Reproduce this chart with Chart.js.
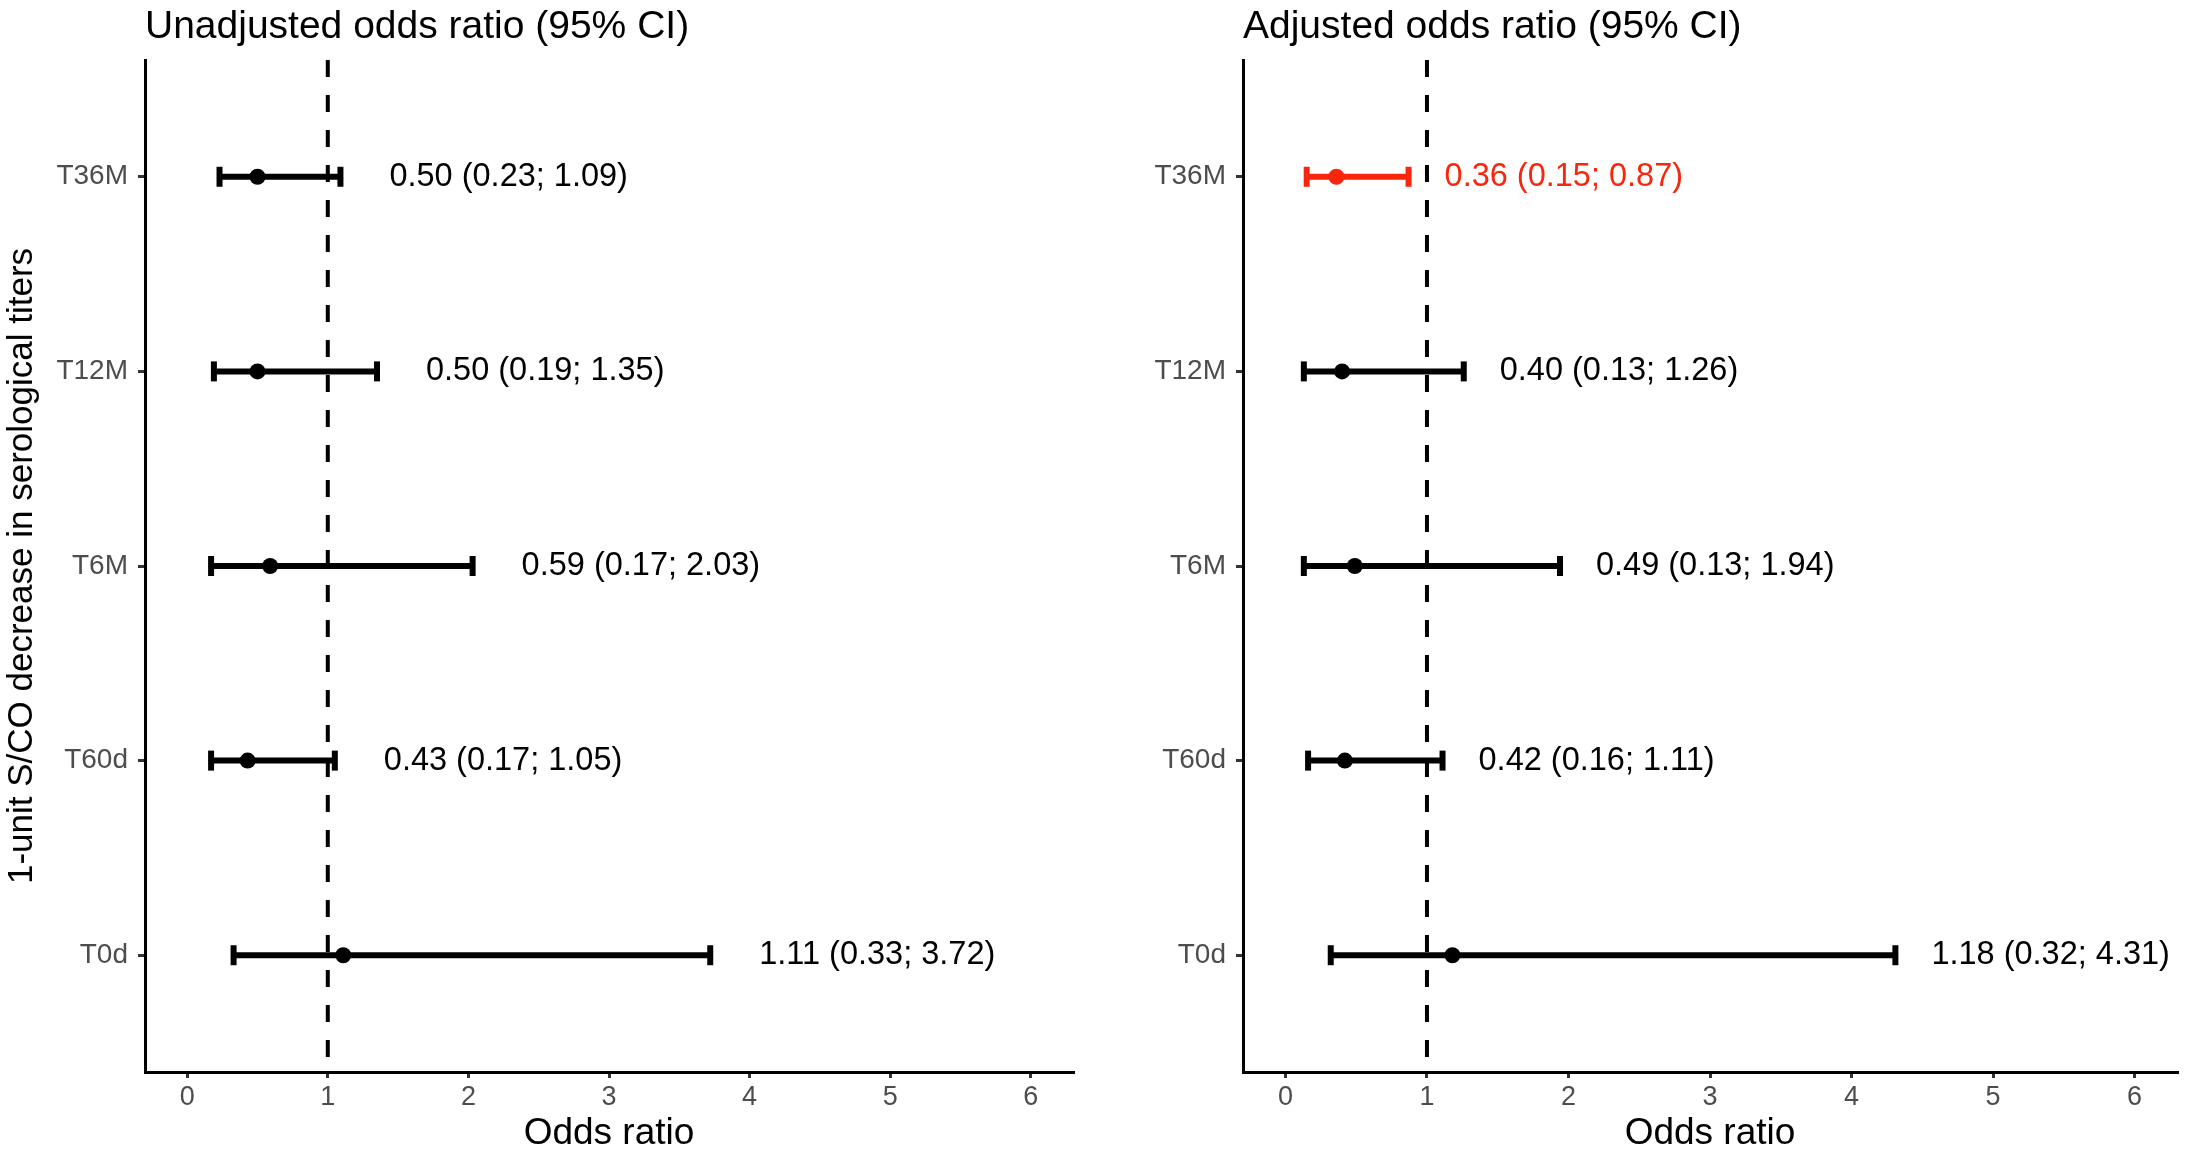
<!DOCTYPE html>
<html>
<head>
<meta charset="utf-8">
<script src="https://cdn.jsdelivr.net/npm/chart.js@4.4.1/dist/chart.umd.min.js"></script>
<style>
  html, body { margin: 0; padding: 0; background: #fff; }
  .panel { position: absolute; top: 0; height: 1156px; }
  #left { left: 0; width: 1100px; }
  #right { left: 1100px; width: 1093px; }
</style>
</head>
<body>
<div class="panel" id="left"><canvas id="unadjustedChart"></canvas></div>
<div class="panel" id="right"><canvas id="adjustedChart"></canvas></div>
<script>
// categories, top to bottom
var timepoints = ['T36M', 'T12M', 'T6M', 'T60d', 'T0d'];
var oddsTicks = [0, 1, 2, 3, 4, 5, 6];
var refLine = 1;

var unadjustedOR    = [0.50, 0.50, 0.59, 0.43, 1.11];
var unadjustedLower = [0.23, 0.19, 0.17, 0.17, 0.33];
var unadjustedUpper = [1.09, 1.35, 2.03, 1.05, 3.72];

var adjustedOR    = [0.36, 0.40, 0.49, 0.42, 1.18];
var adjustedLower = [0.15, 0.13, 0.13, 0.16, 0.32];
var adjustedUpper = [0.87, 1.26, 1.94, 1.11, 4.31];

var FONT = '"Liberation Sans", Arial, Helvetica, sans-serif';
var RED = '#f8260c';
var BLACK = '#000000';
var Y_MIN = -0.6, Y_MAX = 4.6;

Chart.defaults.font.family = FONT;

function rowColors(upper) {
    // intervals entirely below 1 are highlighted
    return upper.map(function (u) { return u < refLine ? RED : BLACK; });
}

function buildDatasets(or, lower, upper) {
    var colors = rowColors(upper);
    var sets = [];
    sets.push({
        label: 'OR',
        data: or.map(function (v, i) { return { x: v, y: i }; }),
        showLine: false,
        pointRadius: 8,
        pointHoverRadius: 8,
        pointBackgroundColor: colors,
        pointBorderWidth: 0
    });
    timepoints.forEach(function (t, i) {
        sets.push({
            label: t,
            data: [{ x: lower[i], y: i }, { x: upper[i], y: i }],
            showLine: true,
            borderColor: colors[i],
            borderWidth: 6,
            pointStyle: 'line',
            pointRotation: 90,
            pointRadius: 10,
            pointHoverRadius: 10,
            pointBorderWidth: 6,
            pointBorderColor: colors[i]
        });
    });
    sets.push({
        label: 'ref',
        data: [{ x: refLine, y: Y_MIN }, { x: refLine, y: Y_MAX }],
        showLine: true,
        borderColor: BLACK,
        borderWidth: 4,
        borderDash: [17, 18],
        pointRadius: 0,
        pointHoverRadius: 0
    });
    return sets;
}

function fmt(v) { return v.toFixed(2); }

function labelPlugin(or, lower, upper, gap) {
    var colors = rowColors(upper);
    return {
        id: 'ciLabels',
        afterDatasetsDraw: function (chart) {
            var ctx = chart.ctx, xs = chart.scales.x, ys = chart.scales.y;
            ctx.save();
            ctx.font = '32.5px ' + FONT;
            ctx.textAlign = 'left';
            ctx.textBaseline = 'middle';
            or.forEach(function (v, i) {
                ctx.fillStyle = colors[i];
                ctx.fillText(fmt(v) + ' (' + fmt(lower[i]) + '; ' + fmt(upper[i]) + ')',
                    xs.getPixelForValue(upper[i]) + gap, ys.getPixelForValue(i));
            });
            ctx.restore();
        }
    };
}

function titlePlugin(text) {
    return {
        id: 'panelTitle',
        afterDraw: function (chart) {
            var ctx = chart.ctx;
            ctx.save();
            ctx.font = '39px ' + FONT;
            ctx.fillStyle = BLACK;
            ctx.textAlign = 'left';
            ctx.textBaseline = 'alphabetic';
            ctx.fillText(text, chart.chartArea.left, 38);
            ctx.restore();
        }
    };
}

function createForestChart(elementId, title, or, lower, upper, opts) {
    var ctx = document.getElementById(elementId).getContext('2d');
    return new Chart(ctx, {
        type: 'scatter',
        data: { datasets: buildDatasets(or, lower, upper) },
        plugins: [labelPlugin(or, lower, upper, opts.gap), titlePlugin(title)],
        options: {
            responsive: true,
            maintainAspectRatio: false,
            animation: false,
            events: [],
            layout: { padding: { top: 60, right: opts.padRight, bottom: 0, left: 0 } },
            plugins: { legend: { display: false }, tooltip: { enabled: false } },
            scales: {
                x: {
                    type: 'linear',
                    min: -0.3,
                    max: 6.3,
                    afterBuildTicks: function (s) { s.ticks = oddsTicks.map(function (v) { return { value: v }; }); },
                    afterFit: function (s) { s.height = 84; },
                    border: { display: true, color: BLACK, width: 3 },
                    grid: { drawOnChartArea: false, drawTicks: true, tickLength: 6, color: '#333333', lineWidth: 3 },
                    ticks: { color: '#4d4d4d', font: { size: 27 }, padding: 3, maxRotation: 0, autoSkip: false },
                    title: { display: true, text: 'Odds ratio', color: BLACK, font: { size: 37 }, padding: { top: 0, bottom: 0 } }
                },
                y: {
                    type: 'linear',
                    reverse: true,
                    min: Y_MIN,
                    max: Y_MAX,
                    afterBuildTicks: function (s) { s.ticks = timepoints.map(function (t, i) { return { value: i }; }); },
                    afterFit: function (s) { s.width = opts.axisWidth; },
                    border: { display: true, color: BLACK, width: 3 },
                    grid: { drawOnChartArea: false, drawTicks: true, tickLength: 7, color: '#333333', lineWidth: 3 },
                    ticks: {
                        color: '#4d4d4d', font: { size: 28 }, padding: 10, autoSkip: false,
                        callback: function (v) { return timepoints[v]; }
                    },
                    title: {
                        display: opts.yTitle !== '',
                        text: opts.yTitle,
                        color: BLACK,
                        font: { size: 35 },
                        padding: { top: 1, bottom: 0 }
                    }
                }
            }
        }
    });
}

var unadjustedChart = createForestChart('unadjustedChart', 'Unadjusted odds ratio (95% CI)',
    unadjustedOR, unadjustedLower, unadjustedUpper,
    { gap: 49, padRight: 27, axisWidth: 145, yTitle: '1-unit S/CO decrease in serological titers' });

var adjustedChart = createForestChart('adjustedChart', 'Adjusted odds ratio (95% CI)',
    adjustedOR, adjustedLower, adjustedUpper,
    { gap: 36, padRight: 16, axisWidth: 143, yTitle: '' });
</script>
</body>
</html>
